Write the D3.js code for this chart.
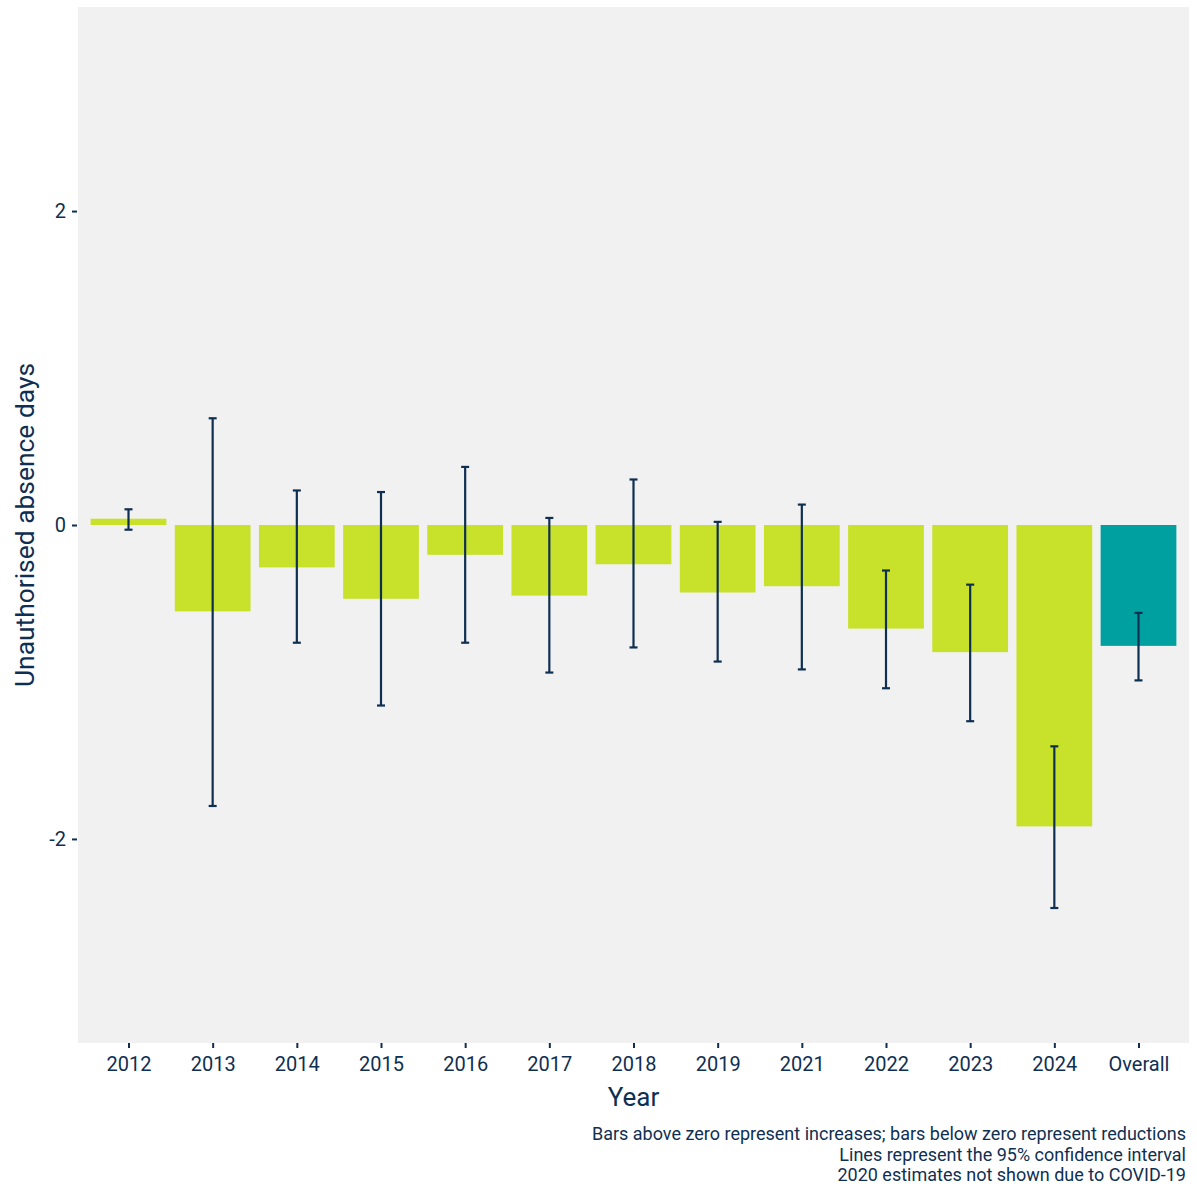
<!DOCTYPE html>
<html>
<head>
<meta charset="utf-8">
<script src="https://cdn.jsdelivr.net/npm/d3@7"></script>
<style>
  html, body { margin: 0; padding: 0; background: #ffffff; }
  svg { display: block; }
  text { font-family: "Roboto", "Liberation Sans", sans-serif; fill: #0f2f52; }
</style>
</head>
<body>
<svg id="chart" width="1197" height="1186"></svg>
<script>
// Year-on-year change in unauthorised absence days, with 95% confidence intervals
const categories = ["2012","2013","2014","2015","2016","2017","2018","2019","2021","2022","2023","2024","Overall"];
const estimates  = [0.04, -0.55, -0.27, -0.47, -0.19, -0.45, -0.25, -0.43, -0.39, -0.66, -0.81, -1.92, -0.77];
const ciLower    = [-0.03, -1.79, -0.75, -1.15, -0.75, -0.94, -0.78, -0.87, -0.92, -1.04, -1.25, -2.44, -0.99];
const ciUpper    = [0.10, 0.68, 0.22, 0.21, 0.37, 0.045, 0.29, 0.02, 0.13, -0.29, -0.38, -1.41, -0.56];
const yTicks     = [-2, 0, 2];
const captionLines = [
  "Bars above zero represent increases; bars below zero represent reductions",
  "Lines represent the 95% confidence interval",
  "2020 estimates not shown due to COVID-19"
];

const rows = categories.map((c, i) => ({ cat: c, est: estimates[i], lo: ciLower[i], hi: ciUpper[i] }));

const svg = d3.select("#chart");
const panel = { left: 78, right: 1189, top: 7, bottom: 1043 };
const navy = "#0f2f52";

// discrete axis with 0.6-unit expansion on each side, bars 0.9 wide
const n = categories.length;
const unit = (panel.right - panel.left) / (n - 1 + 1.2);
const x = d3.scalePoint().domain(categories)
  .range([panel.left + 0.6 * unit, panel.right - 0.6 * unit]);
const barW = 0.9 * unit;

const y = d3.scaleLinear().domain([-3.3, 3.3]).range([panel.bottom, panel.top]);

svg.append("rect")
  .attr("x", panel.left).attr("y", panel.top)
  .attr("width", panel.right - panel.left).attr("height", panel.bottom - panel.top)
  .attr("fill", "#f1f1f1");

// bars
svg.append("g").selectAll("rect").data(rows).join("rect")
  .attr("x", d => x(d.cat) - barW / 2)
  .attr("width", barW)
  .attr("y", d => y(Math.max(0, d.est)))
  .attr("height", d => Math.abs(y(d.est) - y(0)))
  .attr("fill", d => d.cat === "Overall" ? "#009fa0" : "#c8e12a");

// confidence intervals
const capHalf = 4;
const eb = svg.append("g").attr("stroke", navy).attr("stroke-width", 2.2).attr("fill", "none");
rows.forEach(d => {
  const cx = x(d.cat);
  eb.append("line").attr("x1", cx).attr("x2", cx).attr("y1", y(d.lo)).attr("y2", y(d.hi));
  eb.append("line").attr("x1", cx - capHalf).attr("x2", cx + capHalf).attr("y1", y(d.lo)).attr("y2", y(d.lo));
  eb.append("line").attr("x1", cx - capHalf).attr("x2", cx + capHalf).attr("y1", y(d.hi)).attr("y2", y(d.hi));
});

// y axis
const yAxis = d3.axisLeft(y).tickValues(yTicks).tickSize(5).tickPadding(6)
  .tickFormat(d => d < 0 ? "-" + Math.abs(d) : String(d));
const gy = svg.append("g").attr("transform", `translate(${panel.left - 1},0)`).call(yAxis);
gy.select(".domain").remove();
gy.selectAll(".tick line").attr("stroke", navy).attr("stroke-width", 2);
gy.selectAll(".tick text").attr("font-size", 20).attr("fill", navy);

// x axis
const xAxis = d3.axisBottom(x).tickSize(5).tickPadding(9);
const gx = svg.append("g").attr("transform", `translate(0,${panel.bottom})`).call(xAxis);
gx.select(".domain").remove();
gx.selectAll(".tick line").attr("stroke", navy).attr("stroke-width", 2);
gx.selectAll(".tick text").attr("font-size", 20).attr("fill", navy);

// axis titles
svg.append("text")
  .attr("x", (panel.left + panel.right) / 2).attr("y", 1106)
  .attr("text-anchor", "middle").attr("font-size", 26).text("Year");
svg.append("text")
  .attr("transform", `translate(34,${(panel.top + panel.bottom) / 2}) rotate(-90)`)
  .attr("text-anchor", "middle").attr("font-size", 26.4).text("Unauthorised absence days");

// caption
svg.append("g").selectAll("text").data(captionLines).join("text")
  .attr("x", 1186).attr("y", (d, i) => 1140 + i * 20.5)
  .attr("text-anchor", "end").attr("font-size", 18).text(d => d);
</script>
</body>
</html>
